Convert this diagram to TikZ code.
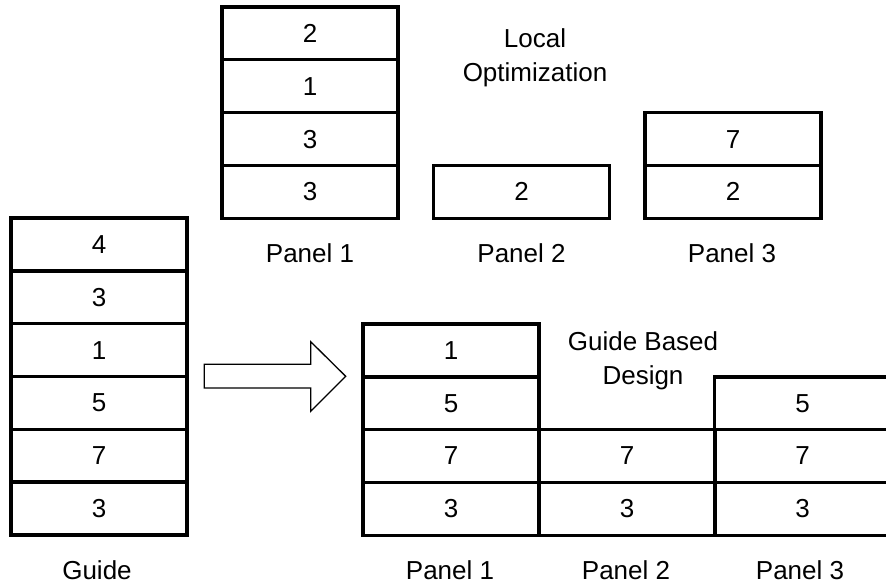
\documentclass[tikz,border=0pt]{standalone}
\usepackage{fontspec}
\setmainfont{Liberation Sans}
\begin{document}
\begin{tikzpicture}[x=1pt,y=-1pt,
  cell/.style={draw, line width=3.4pt, minimum width=176pt, minimum height=52.8pt,
    inner sep=0pt, font=\fontsize{26}{30}\selectfont},
  caption/.style={font=\fontsize{26}{34}\selectfont, align=center, inner sep=0pt},
  blockarrow/.style={draw, line width=1.3pt, fill=white, line join=miter}]
\useasboundingbox (0,0) rectangle (886,586);
\clip (0,0) rectangle (886,586);

% Local optimization result
\node[cell] (l11) at (310,33.4) {2};
\node[cell] (l12) at (310,86.2) {1};
\node[cell] (l13) at (310,139.1) {3};
\node[cell] (l14) at (310,191.9) {3};
\node[cell] (l21) at (521.5,191.9) {2};
\node[cell] (l31) at (733,139.1) {7};
\node[cell] (l32) at (733,191.9) {2};
\node[caption] (lp1) at (310,253) {Panel 1};
\node[caption] (lp2) at (521.5,253) {Panel 2};
\node[caption] (lp3) at (732,253) {Panel 3};
\node[caption] (ltitle) at (535,57.5) {Local\\Optimization};

% Guide stack
\node[cell] (g1) at (99,244.4) {4};
\node[cell] (g2) at (99,297.2) {3};
\node[cell] (g3) at (99,350.1) {1};
\node[cell] (g4) at (99,402.9) {5};
\node[cell] (g5) at (99,455.7) {7};
\node[cell] (g6) at (99,508.6) {3};
\node[caption] (glabel) at (97,570) {Guide};

% Guide based design result
\node[cell] (b11) at (451,350.4) {1};
\node[cell] (b12) at (451,403.2) {5};
\node[cell] (b13) at (451,456.0) {7};
\node[cell] (b14) at (451,508.8) {3};
\node[cell] (b21) at (627,456.0) {7};
\node[cell] (b22) at (627,508.8) {3};
\node[cell] (b31) at (802.5,403.2) {5};
\node[cell] (b32) at (802.5,456.0) {7};
\node[cell] (b33) at (802.5,508.8) {3};
\node[caption] (bp1) at (450,570) {Panel 1};
\node[caption] (bp2) at (626,570) {Panel 2};
\node[caption] (bp3) at (800,570) {Panel 3};
\node[caption] (btitle) at (643,360.5) {Guide Based\\Design};

% Block arrow from the guide to the design
\coordinate (tail) at (204.3,376.3);
\coordinate (tip) at (345.7,376.3);
\draw[blockarrow] (tail) ++(0,-12) -- ++(106.4,0) -- ++(0,-22.6) -- (tip)
  -- ++(-35,35) -- ++(0,-23.4) -- ++(-106.4,0) -- cycle;
\end{tikzpicture}
\end{document}
